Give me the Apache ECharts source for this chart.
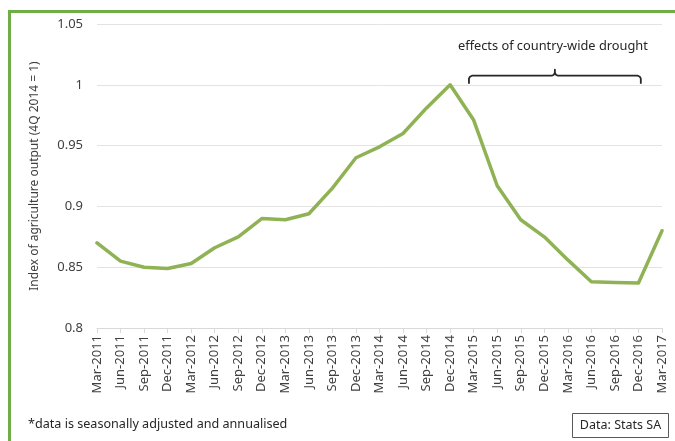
<!DOCTYPE html>
<html>
<head>
<meta charset="utf-8">
<script src="https://cdn.jsdelivr.net/npm/echarts@6/dist/echarts.min.js"></script>
<style>
  html, body { margin: 0; padding: 0; background: #ffffff; }
  #chart { width: 675px; height: 441px; }
</style>
</head>
<body>
<div id="chart"></div>
<script>
// Quarterly index of agriculture output (4Q 2014 = 1), seasonally adjusted and annualised
const quarters = [
  'Mar-2011', 'Jun-2011', 'Sep-2011', 'Dec-2011',
  'Mar-2012', 'Jun-2012', 'Sep-2012', 'Dec-2012',
  'Mar-2013', 'Jun-2013', 'Sep-2013', 'Dec-2013',
  'Mar-2014', 'Jun-2014', 'Sep-2014', 'Dec-2014',
  'Mar-2015', 'Jun-2015', 'Sep-2015', 'Dec-2015',
  'Mar-2016', 'Jun-2016', 'Sep-2016', 'Dec-2016',
  'Mar-2017'
];
const outputIndex = [
  0.870, 0.855, 0.850, 0.849,
  0.853, 0.866, 0.875, 0.890,
  0.889, 0.894, 0.915, 0.940,
  0.949, 0.960, 0.981, 1.000,
  0.971, 0.917, 0.889, 0.875,
  0.856, 0.838, 0.8375, 0.837,
  0.880
];
const yTicks = { min: 0.8, max: 1.05, step: 0.05 };

const axisFont = '"Noto Sans", "Open Sans", sans-serif';
const textColor = '#404040';
const frameGreen = '#70AD47';

const chart = echarts.init(document.getElementById('chart'), null, { renderer: 'canvas' });

const gridBox = { left: 97, right: 13, top: 24, bottom: 113 };

chart.setOption({
  backgroundColor: '#ffffff',
  animation: false,
  grid: gridBox,
  xAxis: {
    type: 'category',
    data: quarters,
    boundaryGap: false,
    axisLine: { lineStyle: { color: '#d9d9d9', width: 1 } },
    axisTick: { show: true, length: 5, lineStyle: { color: '#d9d9d9' } },
    axisLabel: {
      rotate: 90,
      interval: 0,
      margin: 7,
      color: textColor,
      fontFamily: axisFont,
      fontSize: 13
    },
    splitLine: { show: false }
  },
  yAxis: {
    type: 'value',
    min: yTicks.min,
    max: yTicks.max,
    interval: yTicks.step,
    name: 'Index of agriculture output (4Q 2014 = 1)',
    nameLocation: 'middle',
    nameGap: 56,
    nameRotate: 90,
    nameTextStyle: { color: textColor, fontFamily: axisFont, fontSize: 12 },
    axisLine: { show: false },
    axisTick: { show: false },
    axisLabel: {
      margin: 14,
      color: textColor,
      fontFamily: axisFont,
      fontSize: 13,
      formatter: v => String(Math.round(v * 100) / 100)
    },
    splitLine: { lineStyle: { color: '#e3e3e3', width: 1 } }
  },
  series: [{
    type: 'line',
    data: outputIndex,
    showSymbol: false,
    symbol: 'none',
    lineStyle: { color: '#8FB254', width: 3.5, cap: 'round', join: 'round' },
    z: 3
  }]
});

// Annotation bracket spanning the drought quarters, placed from the axis scales
function pointX(idx) {
  const lo = Math.floor(idx), hi = Math.ceil(idx);
  const a = chart.convertToPixel({ xAxisIndex: 0 }, lo);
  const b = chart.convertToPixel({ xAxisIndex: 0 }, hi);
  return a + (b - a) * (idx - lo);
}
const bx0 = pointX(15.8);
const bx1 = pointX(23.1);
const bmid = (bx0 + bx1) / 2;
const byTop = chart.convertToPixel({ yAxisIndex: 0 }, 1.0075);
const byEnd = byTop + 8;
const bracketPoints = [
  [bx0, byEnd], [bx0, byTop + 3], [bx0 + 1, byTop + 1], [bx0 + 3, byTop],
  [bmid - 3, byTop], [bmid - 1, byTop - 1], [bmid, byTop - 3], [bmid, byTop - 6],
  [bmid, byTop - 3], [bmid + 1, byTop - 1], [bmid + 3, byTop],
  [bx1 - 3, byTop], [bx1 - 1, byTop + 1], [bx1, byTop + 3], [bx1, byEnd]
];

chart.setOption({
  graphic: [
    // green frame along the top and left edges
    { type: 'line', shape: { x1: 9.5, y1: 11.5, x2: 675, y2: 11.5 },
      style: { stroke: frameGreen, lineWidth: 3 }, silent: true },
    { type: 'line', shape: { x1: 9.5, y1: 10, x2: 9.5, y2: 441 },
      style: { stroke: frameGreen, lineWidth: 3 }, silent: true },
    // drought bracket and caption
    { type: 'polyline', shape: { points: bracketPoints },
      style: { stroke: '#262626', lineWidth: 1.8, fill: null, lineJoin: 'round' },
      silent: true, z: 10 },
    { type: 'text', x: bmid - 2, y: byTop - 29,
      style: { text: 'effects of country-wide drought', fill: '#262626',
               font: `12.8px ${axisFont}`, textAlign: 'center', textVerticalAlign: 'middle' },
      silent: true, z: 10 },
    // footnote
    { type: 'text', x: 28, y: 424.5,
      style: { text: '*data is seasonally adjusted and annualised', fill: '#262626',
               font: `12.6px ${axisFont}`, textAlign: 'left', textVerticalAlign: 'middle' },
      silent: true },
    // source box
    { type: 'rect', shape: { x: 572.5, y: 413.5, width: 96, height: 24 },
      style: { stroke: '#595959', lineWidth: 1, fill: '#ffffff' }, silent: true },
    { type: 'text', x: 620.5, y: 425.5,
      style: { text: 'Data: Stats SA', fill: '#262626',
               font: `12.5px ${axisFont}`, textAlign: 'center', textVerticalAlign: 'middle' },
      silent: true }
  ]
});
</script>
</body>
</html>
